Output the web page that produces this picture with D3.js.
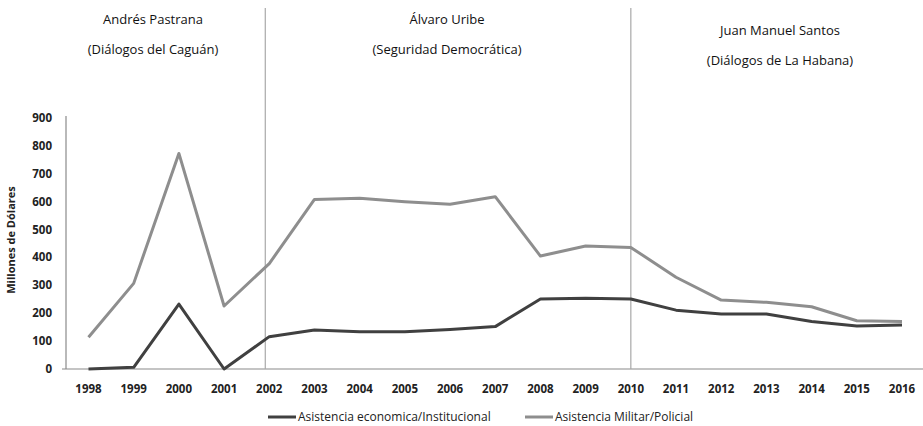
<!DOCTYPE html>
<html>
<head>
<meta charset="utf-8">
<script src="https://cdn.jsdelivr.net/npm/d3@7"></script>
<style>
  body { margin: 0; background: #fff; }
  svg { display: block; font-family: "Liberation Sans Narrow", "Open Sans", sans-serif; }
</style>
</head>
<body>
<svg width="923" height="426"></svg>
<script>
(function(){
    'use strict';

    // years on the x axis
    var years = ['1998','1999','2000','2001','2002','2003','2004','2005','2006','2007',
                 '2008','2009','2010','2011','2012','2013','2014','2015','2016'];

    // Millones de dolares
    var economica = [0, 6, 233, 0, 116, 140, 134, 134, 142, 152, 251, 254, 251, 211, 197, 197, 170, 154, 158];
    var militar   = [114, 307, 773, 226, 378, 608, 612, 600, 591, 618, 405, 441, 436, 329, 247, 239, 223, 173, 170];

    var yTicks = [0, 100, 200, 300, 400, 500, 600, 700, 800, 900];

    // government periods: label lines
    var periods = [
        { l1: 'Andrés Pastrana', l2: '(Diálogos del Caguán)', cx: 153, y: 19 },
        { l1: 'Álvaro Uribe', l2: '(Seguridad Democrática)', cx: 447, y: 19 },
        { l1: 'Juan Manuel Santos', l2: '(Diálogos de La Habana)', cx: 780, y: 30 }
    ];
    var dividers = ['2002', '2010'];

    var series = [
        { name: 'Asistencia economica/Institucional', values: economica, color: '#404040' },
        { name: 'Asistencia Militar/Policial', values: militar, color: '#8e8e8e' }
    ];

    var svg = d3.select('svg');

    var x = d3.scalePoint().domain(years).range([88.5, 902]);
    var y = d3.scaleLinear().domain([0, 900]).range([369, 118]);

    // axes lines
    svg.append('line')
        .attr('x1', 66).attr('x2', 66)
        .attr('y1', 116).attr('y2', y(0))
        .attr('stroke', '#8a8a8a').attr('stroke-width', 1.2);
    svg.append('line')
        .attr('x1', 62).attr('x2', 923)
        .attr('y1', y(0)).attr('y2', y(0))
        .attr('stroke', '#8a8a8a').attr('stroke-width', 1.2);

    svg.selectAll('text.ytick')
        .data(yTicks)
        .join('text')
        .attr('class', 'ytick')
        .attr('x', 52)
        .attr('y', d => y(d))
        .attr('dy', '0.35em')
        .attr('text-anchor', 'end')
        .style('font-size', '11.5px')
        .style('font-weight', 'bold')
        .style('fill', '#222')
        .text(d => d);

    svg.selectAll('text.xtick')
        .data(years)
        .join('text')
        .attr('class', 'xtick')
        .attr('x', d => x(d))
        .attr('y', 389)
        .attr('dy', '0.35em')
        .attr('text-anchor', 'middle')
        .style('font-size', '11.5px')
        .style('font-weight', 'bold')
        .style('fill', '#222')
        .text(d => d);

    svg.append('text')
        .attr('transform', 'translate(15,240) rotate(-90)')
        .attr('text-anchor', 'middle')
        .style('font-size', '11px')
        .style('font-weight', 'bold')
        .style('fill', '#222')
        .text('Millones de Dólares');

    // period dividers
    svg.selectAll('line.divider')
        .data(dividers)
        .join('line')
        .attr('class', 'divider')
        .attr('x1', (d, i) => x(d) - (i === 0 ? 4 : 0))
        .attr('x2', (d, i) => x(d) - (i === 0 ? 4 : 0))
        .attr('y1', 8).attr('y2', y(0))
        .attr('stroke', '#a8a8a8').attr('stroke-width', 1.2);

    // period labels
    var pg = svg.selectAll('g.period')
        .data(periods)
        .join('g')
        .attr('class', 'period');
    pg.append('text')
        .attr('x', d => d.cx).attr('y', d => d.y)
        .attr('dy', '0.35em')
        .attr('text-anchor', 'middle')
        .style('font-size', '13px')
        .style('fill', '#111')
        .text(d => d.l1);
    pg.append('text')
        .attr('x', d => d.cx).attr('y', d => d.y + 30)
        .attr('dy', '0.35em')
        .attr('text-anchor', 'middle')
        .style('font-size', '13px')
        .style('fill', '#111')
        .text(d => d.l2);

    // lines
    var line = d3.line()
        .x((d, i) => x(years[i]))
        .y(d => y(d));

    svg.selectAll('path.serie')
        .data(series.slice().reverse())
        .join('path')
        .attr('class', 'serie')
        .attr('d', d => line(d.values))
        .attr('fill', 'none')
        .attr('stroke', d => d.color)
        .attr('stroke-width', 3)
        .attr('stroke-linejoin', 'round');

    // legend
    var legX = [268, 525];
    var lg = svg.selectAll('g.legend')
        .data(series)
        .join('g')
        .attr('class', 'legend')
        .attr('transform', (d, i) => 'translate(' + legX[i] + ',417)');
    lg.append('line')
        .attr('x1', 0).attr('x2', 28)
        .attr('stroke', d => d.color)
        .attr('stroke-width', 3);
    lg.append('text')
        .attr('x', 30)
        .attr('dy', '0.35em')
        .style('font-size', '12px')
        .style('fill', '#222')
        .text(d => d.name);
})();
</script>
</body>
</html>
